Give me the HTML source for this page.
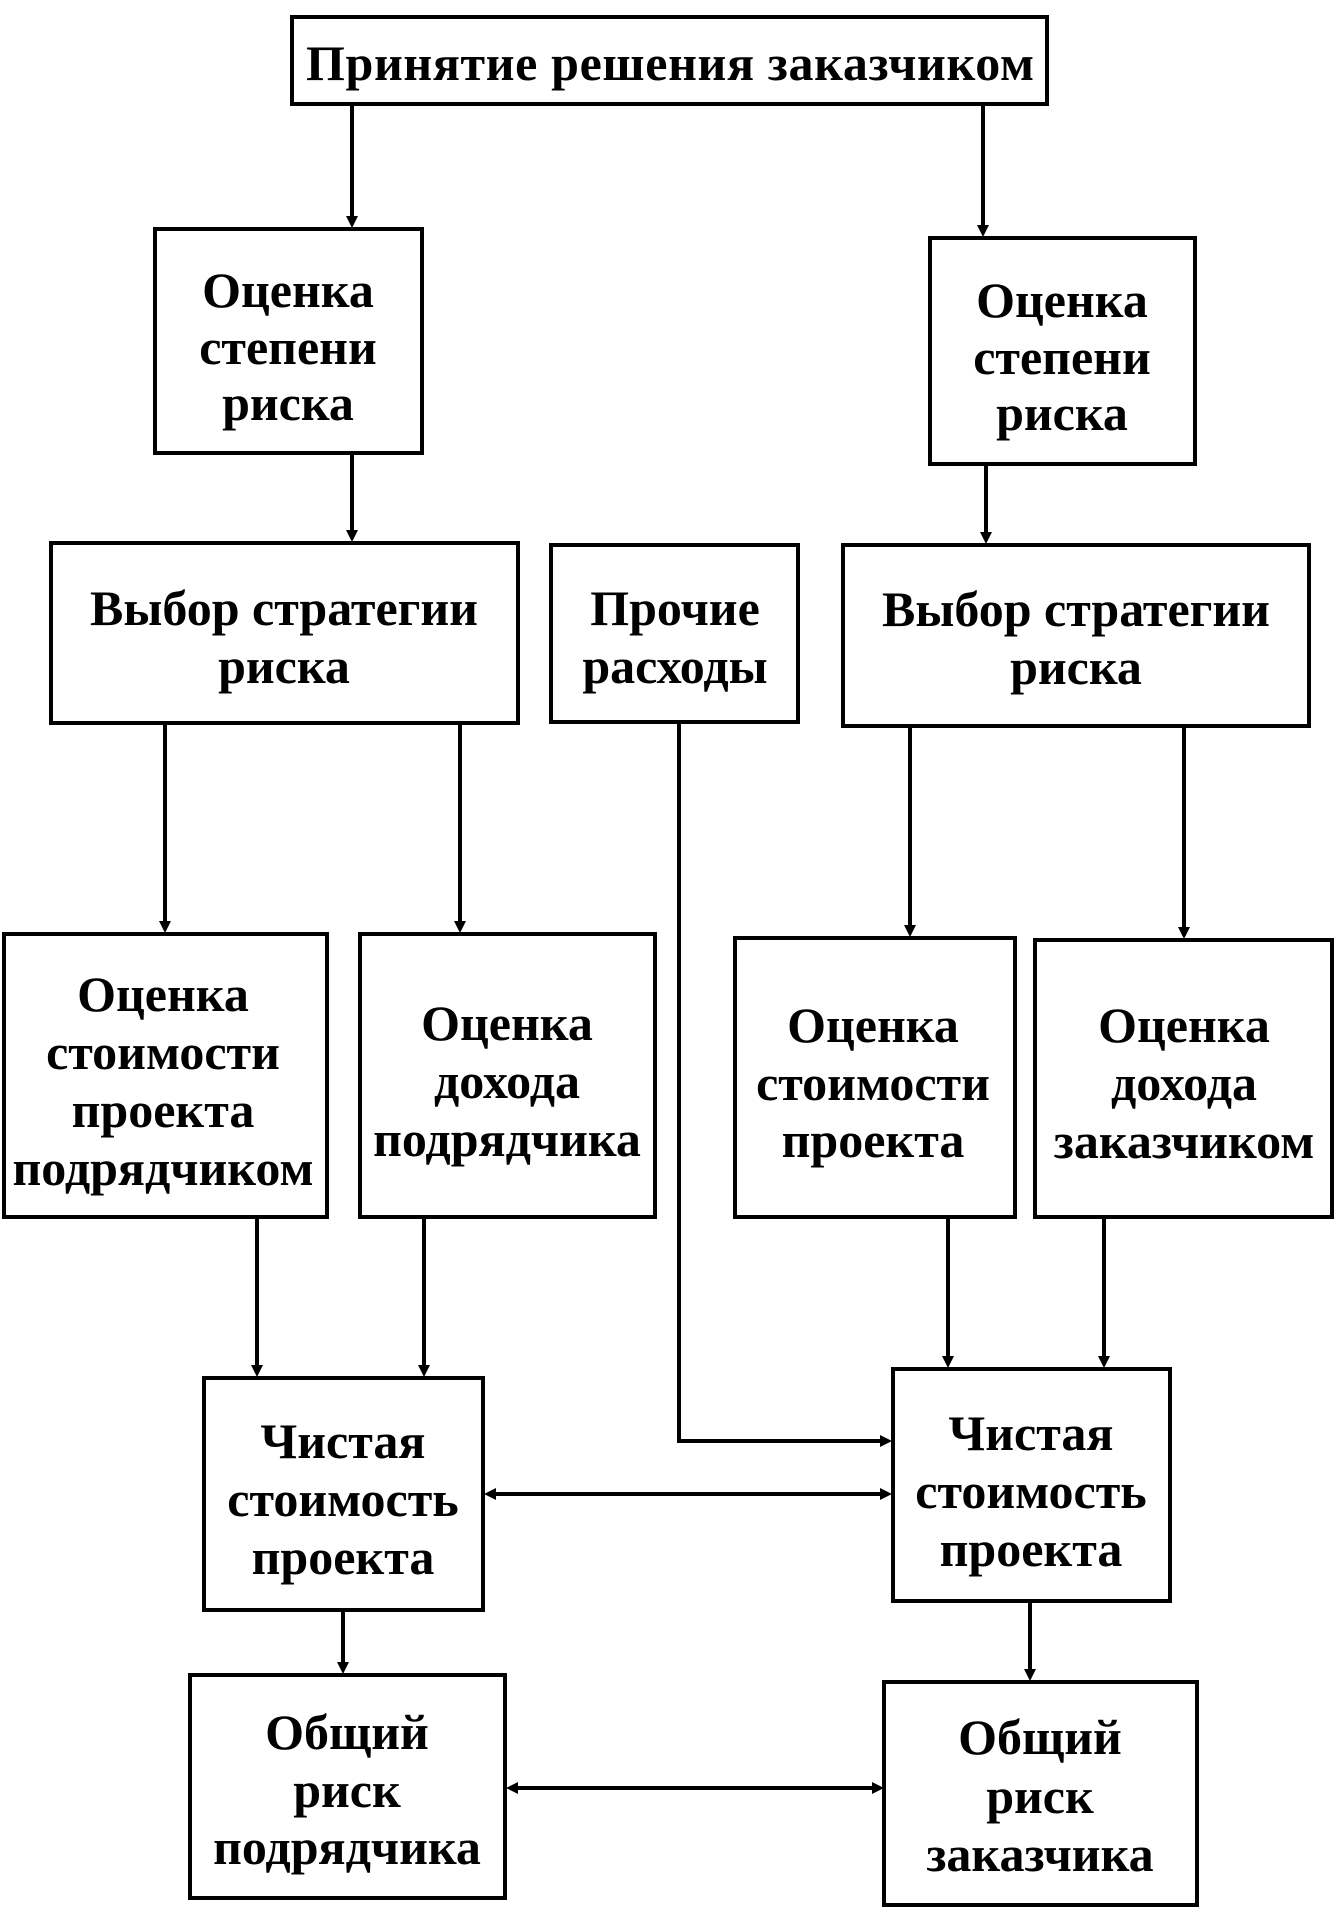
<!DOCTYPE html>
<html>
<head>
<meta charset="utf-8">
<style>
  html, body { margin: 0; padding: 0; background: #ffffff; }
  svg { display: block; }
  text { font-family: "Liberation Serif", "Noto Serif CJK SC", serif; font-weight: bold; font-size: 50px; fill: #000; }
</style>
</head>
<body>
<svg width="1344" height="1920" viewBox="0 0 1344 1920" xmlns="http://www.w3.org/2000/svg">
  <rect x="0" y="0" width="1344" height="1920" fill="#ffffff"/>
  <g fill="none" stroke="#000" stroke-width="4">
    <!-- boxes -->
    <rect x="292" y="17" width="755" height="87"/>
    <rect x="155" y="229" width="267" height="224"/>
    <rect x="930" y="238" width="265" height="226"/>
    <rect x="51" y="543" width="467" height="180"/>
    <rect x="551" y="545" width="247" height="177"/>
    <rect x="843" y="545" width="466" height="181"/>
    <rect x="4" y="934" width="323" height="283"/>
    <rect x="360" y="934" width="295" height="283"/>
    <rect x="735" y="938" width="280" height="279"/>
    <rect x="1035" y="940" width="297" height="277"/>
    <rect x="204" y="1378" width="279" height="232"/>
    <rect x="893" y="1369" width="277" height="232"/>
    <rect x="190" y="1675" width="315" height="223"/>
    <rect x="884" y="1682" width="313" height="223"/>

    <!-- connectors -->
    <line x1="352" y1="104" x2="352" y2="222"/>
    <line x1="983" y1="104" x2="983" y2="231"/>
    <line x1="352" y1="453" x2="352" y2="536"/>
    <line x1="986" y1="464" x2="986" y2="538"/>
    <line x1="165" y1="723" x2="165" y2="927"/>
    <line x1="460" y1="723" x2="460" y2="927"/>
    <line x1="910" y1="726" x2="910" y2="931"/>
    <line x1="1184" y1="726" x2="1184" y2="933"/>
    <polyline points="679,722 679,1441 885,1441"/>
    <line x1="257" y1="1217" x2="257" y2="1371"/>
    <line x1="424" y1="1217" x2="424" y2="1371"/>
    <line x1="948" y1="1217" x2="948" y2="1362"/>
    <line x1="1104" y1="1217" x2="1104" y2="1362"/>
    <line x1="490" y1="1494" x2="885" y2="1494"/>
    <line x1="343" y1="1610" x2="343" y2="1670"/>
    <line x1="1030" y1="1601" x2="1030" y2="1677"/>
    <line x1="512" y1="1788" x2="877" y2="1788"/>
  </g>
  <g fill="#000" stroke="none">
    <!-- down arrowheads (tip at box top) -->
    <polygon points="346,216 358,216 352,228"/>
    <polygon points="977,225 989,225 983,237"/>
    <polygon points="346,530 358,530 352,542"/>
    <polygon points="980,532 992,532 986,544"/>
    <polygon points="159,921 171,921 165,933"/>
    <polygon points="454,921 466,921 460,933"/>
    <polygon points="904,925 916,925 910,937"/>
    <polygon points="1178,927 1190,927 1184,939"/>
    <polygon points="251,1365 263,1365 257,1377"/>
    <polygon points="418,1365 430,1365 424,1377"/>
    <polygon points="942,1356 954,1356 948,1368"/>
    <polygon points="1098,1356 1110,1356 1104,1368"/>
    <polygon points="337,1662 349,1662 343,1674"/>
    <polygon points="1024,1669 1036,1669 1030,1681"/>
    <!-- right arrowheads -->
    <polygon points="880,1435 880,1447 892,1441"/>
    <polygon points="880,1488 880,1500 892,1494"/>
    <polygon points="872,1782 872,1794 884,1788"/>
    <!-- left arrowheads -->
    <polygon points="496,1488 496,1500 484,1494"/>
    <polygon points="518,1782 518,1794 506,1788"/>
  </g>
  <g text-anchor="middle">
    <text x="670" y="80" textLength="728" lengthAdjust="spacing">Принятие  решения  заказчиком</text>

    <text x="288" y="307">Оценка</text>
    <text x="288" y="364">степени</text>
    <text x="288" y="420">риска</text>

    <text x="1062" y="317">Оценка</text>
    <text x="1062" y="374">степени</text>
    <text x="1062" y="430">риска</text>

    <text x="284" y="625">Выбор  стратегии</text>
    <text x="284" y="683">риска</text>

    <text x="675" y="625">Прочие</text>
    <text x="675" y="683">расходы</text>

    <text x="1076" y="626">Выбор  стратегии</text>
    <text x="1076" y="684">риска</text>

    <text x="163" y="1011">Оценка</text>
    <text x="163" y="1069">стоимости</text>
    <text x="163" y="1127">проекта</text>
    <text x="163" y="1185">подрядчиком</text>

    <text x="507" y="1040">Оценка</text>
    <text x="507" y="1098">дохода</text>
    <text x="507" y="1156">подрядчика</text>

    <text x="873" y="1042">Оценка</text>
    <text x="873" y="1100">стоимости</text>
    <text x="873" y="1157">проекта</text>

    <text x="1184" y="1042">Оценка</text>
    <text x="1184" y="1100">дохода</text>
    <text x="1184" y="1158">заказчиком</text>

    <text x="343" y="1458">Чистая</text>
    <text x="343" y="1516">стоимость</text>
    <text x="343" y="1574">проекта</text>

    <text x="1031" y="1450">Чистая</text>
    <text x="1031" y="1508">стоимость</text>
    <text x="1031" y="1566">проекта</text>

    <text x="347" y="1749">Общий</text>
    <text x="347" y="1807">риск</text>
    <text x="347" y="1864">подрядчика</text>

    <text x="1040" y="1754">Общий</text>
    <text x="1040" y="1813">риск</text>
    <text x="1040" y="1871">заказчика</text>
  </g>
</svg>
</body>
</html>
